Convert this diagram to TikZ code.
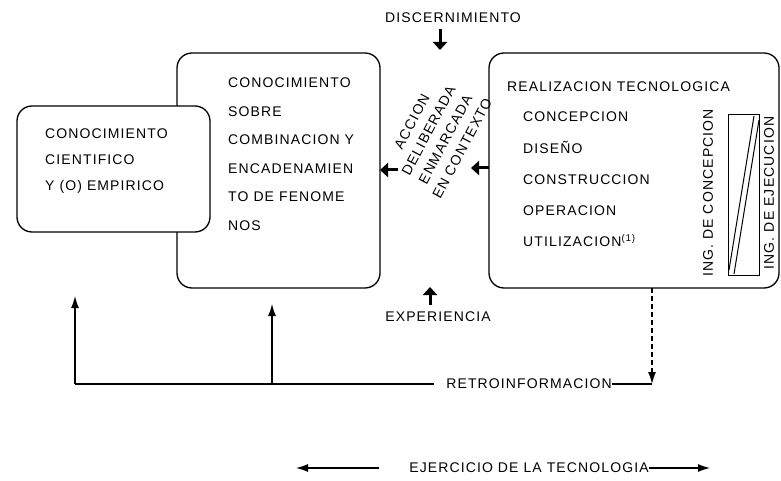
\documentclass[tikz,border=0pt]{standalone}
\usepackage{fontspec}
\newfontfamily\diagfont[LetterSpace=8]{Liberation Sans}
\usetikzlibrary{arrows.meta}

\begin{document}
\begin{tikzpicture}[x=1pt,y=-1pt,
	caja/.style={draw, line width=1.3pt, rounded corners=15pt, inner sep=0pt, outer sep=0pt, fill=white},
	lbl/.style={font=\diagfont\fontsize{14}{16}\selectfont, inner sep=0pt},
	lineas/.style={inner sep=0pt, align=left, font=\diagfont\fontsize{14}{#1}\selectfont},
	flecha/.style={line width=1.2pt, -{Latex[length=12pt,width=8pt]}},
	gruesa/.style={line width=3pt, -{Triangle[length=8pt,width=14pt]}}]
	\useasboundingbox (0,0) rectangle (781,481);
	\node[caja, minimum width=203pt, minimum height=235pt] (sobre) at (278.5,170.5) {};
	\node[caja, minimum width=193pt, minimum height=126pt] (cient) at (113.5,169) {};
	\node[caja, minimum width=290pt, minimum height=235pt] (real) at (634,170.5) {};
	\node[lineas=26, anchor=north west] (cienttxt) at (45,129)
		{CONOCIMIENTO\\CIENTIFICO\\Y (O) EMPIRICO};
	\node[lineas=28.5, anchor=north west] (sobretxt) at (228,78)
		{CONOCIMIENTO\\SOBRE\\COMBINACION Y\\ENCADENAMIEN\\TO DE FENOME\\NOS};
	\node[lbl, anchor=west] (realtit) at (507,87) {REALIZACION TECNOLOGICA};
	\node[lineas=31.25, anchor=north west] (fases) at (523,112)
		{CONCEPCION\\DISEÑO\\CONSTRUCCION\\OPERACION\\UTILIZACION\textsuperscript{(1)}};
	\node[lbl, rotate=90] (ingcon) at (708,193) {ING. DE CONCEPCION};
	\node[lbl, rotate=90] (ingeje) at (769,193) {ING. DE EJECUCION};
	\draw [line width=1pt] (728,115) rectangle (759,275);
	\draw [line width=1pt] (729,270) -- (754,116);
	\draw [line width=1pt] (734,274) -- (759,120);
	\node[lineas=19, align=center, rotate=62] (accion) at (437,135)
		{ACCION\\DELIBERADA\\ENMARCADA\\EN CONTEXTO};
	\node[lbl] (discern) at (453,18) {DISCERNIMIENTO};
	\node[lbl] (exper) at (438,317) {EXPERIENCIA};
	\coordinate (discA) at (440,29);
	\coordinate (discB) at (440,50);
	\coordinate (expA) at (430,305);
	\coordinate (expB) at (430,287);
	\draw [gruesa] (discA) -- (discB);
	\draw [gruesa] (expA) -- (expB);
	\draw [gruesa] (398,170) -- (sobre.east |- 0,170);
	\draw [gruesa] (real.west |- 0,168) -- (471,168);
	\node[lbl] (retro) at (529,384) {RETROINFORMACION};
	\coordinate (fbR) at (652,384);
	\coordinate (fbM) at (272,384);
	\coordinate (fbL) at (75,384);
	\coordinate (tipM) at (272,304);
	\coordinate (tipL) at (75,296);
	\draw [flecha, dash pattern=on 5pt off 3pt] (real.south -| fbR) -- (fbR);
	\draw [line width=1.2pt] (fbR) -- (retro.east);
	\draw [line width=1.2pt] ([xshift=-12pt]retro.west) -- (fbL);
	\draw [flecha] (fbL) -- (tipL);
	\draw [flecha] (fbM) -- (tipM);
	\node[lbl] (ejerc) at (529,468) {EJERCICIO DE LA TECNOLOGIA};
	\coordinate (ejL) at (296,468);
	\coordinate (ejR) at (710,468);
	\draw [flecha] ([xshift=-30pt]ejerc.west) -- (ejL);
	\draw [flecha] (ejerc.east) -- (ejR);
\end{tikzpicture}
\end{document}
